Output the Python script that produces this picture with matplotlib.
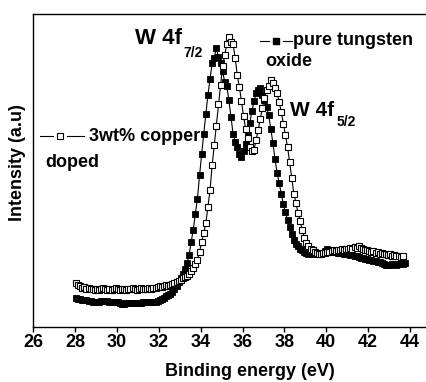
import numpy as np
import matplotlib
matplotlib.use("Agg")
import matplotlib.pyplot as plt

plt.rcParams.update({
    'font.family': 'Liberation Sans',
    'font.weight': 'bold',
    'axes.linewidth': 1.0,
})

# XPS W 4f spectra, energy grid starts at 28.05 eV with 0.1 eV steps
E_START = 28.05
E_STEP = 0.1

pure_wo3 = [
    29.0, 28.3, 27.7, 27.3, 26.7, 26.7, 26.0, 25.7, 25.3, 25.0,
    25.3, 25.0, 25.7, 26.0, 26.3, 26.0, 25.3, 25.0, 24.7, 25.0,
    24.7, 24.0, 23.0, 22.7, 23.7, 24.3, 24.0, 23.7, 24.0, 24.3,
    24.0, 24.3, 24.7, 24.7, 25.0, 24.7, 25.0, 25.3, 25.0, 25.7,
    26.7, 28.0, 29.3, 30.7, 32.0, 33.3, 35.3, 38.0, 41.3, 45.0,
    49.0, 52.7, 58.0, 64.0, 71.7, 85.0, 97.3, 113.3, 128.3, 151.7,
    172.7, 193.3, 213.3, 232.3, 247.7, 264.0, 269.3, 279.3, 270.0, 264.0,
    256.0, 245.0, 240.7, 226.7, 210.0, 193.3, 185.0, 180.0, 173.3, 170.0,
    176.0, 182.7, 191.7, 204.0, 216.0, 225.7, 234.0, 237.3, 238.7, 232.0,
    226.7, 220.0, 211.7, 198.3, 184.0, 168.3, 154.0, 144.0, 133.3, 122.7,
    115.0, 106.7, 100.0, 93.3, 87.3, 83.3, 80.7, 78.3, 76.7, 75.0,
    74.0, 73.3, 73.0, 73.0, 73.3, 73.3, 73.0, 73.3, 74.0, 76.0,
    78.0, 77.3, 76.0, 75.0, 74.7, 74.3, 74.0, 74.0, 73.3, 73.3,
    72.7, 72.3, 71.7, 71.3, 70.7, 70.0, 69.3, 68.7, 68.0, 67.7,
    67.0, 66.7, 66.3, 65.7, 65.0, 64.7, 64.0, 63.3, 62.3, 61.7,
    62.3, 63.3, 62.7, 62.0, 63.0, 63.7, 63.3, 64.0,
]

cu_doped = [
    44.0, 41.7, 40.7, 39.3, 40.0, 38.3, 39.0, 37.7, 38.0, 37.3,
    38.0, 37.3, 38.3, 39.3, 38.0, 37.3, 38.0, 37.0, 38.0, 38.7,
    38.0, 37.3, 38.3, 38.0, 37.3, 38.0, 37.7, 38.7, 37.7, 37.3,
    38.0, 38.7, 37.7, 38.3, 38.0, 39.0, 38.3, 39.3, 38.7, 40.0,
    40.7, 40.0, 41.3, 41.7, 41.0, 42.3, 42.7, 44.0, 45.0, 46.0,
    47.3, 48.7, 50.0, 51.3, 53.3, 56.0, 59.3, 62.7, 67.3, 75.0,
    85.0, 94.0, 104.0, 120.0, 136.7, 161.7, 181.7, 201.3, 222.7, 241.7,
    260.7, 271.7, 282.7, 290.0, 285.0, 282.7, 269.3, 251.7, 240.0, 226.0,
    210.7, 198.3, 189.3, 180.0, 176.0, 177.3, 187.3, 197.3, 208.3, 219.3,
    229.3, 237.3, 240.7, 246.7, 244.0, 239.3, 234.0, 225.0, 215.0, 203.3,
    191.7, 180.0, 165.0, 149.3, 133.3, 124.0, 114.0, 106.0, 97.3, 89.3,
    84.0, 80.7, 78.3, 76.7, 75.0, 74.0, 73.3, 73.3, 74.0, 74.0,
    75.0, 74.7, 76.0, 76.7, 76.0, 77.3, 76.7, 78.0, 77.3, 78.3,
    77.7, 79.0, 78.3, 80.0, 79.3, 81.3, 79.3, 78.3, 76.7, 77.3,
    76.0, 75.0, 75.7, 74.3, 75.0, 73.3, 74.0, 72.7, 73.3, 72.0,
    72.7, 71.3, 72.0, 70.7, 71.3, 70.0, 70.7,
]

x_ticks = [26, 28, 30, 32, 34, 36, 38, 40, 42, 44]

e_pure = E_START + E_STEP * np.arange(len(pure_wo3))
e_doped = E_START + E_STEP * np.arange(len(cu_doped))

W, H = 427, 382
fig = plt.figure(figsize=(W / 100, H / 100), dpi=100)
# axes runs past the right edge of the image, like the cropped original
ax = fig.add_axes([33 / W, 55 / H, 419 / W, 313 / H])

ax.plot(e_pure, pure_wo3, '-', color='black', lw=0.8,
        marker='s', ms=4.6, mfc='black', mec='black', mew=0.6)
ax.plot(e_doped, cu_doped, '-', color='black', lw=0.8,
        marker='s', ms=4.6, mfc='white', mec='black', mew=0.8)

ax.set_xlim(26, 46)
ax.set_ylim(0, 313)
ax.set_xticks(x_ticks)
ax.set_yticks([])
ax.tick_params(axis='x', direction='out', length=3.6, width=1.0, pad=1.2,
               labelsize=13)
ax.spines['right'].set_visible(False)

ax.set_xlabel('Binding energy (eV)', fontsize=13, fontweight='bold')
ax.xaxis.set_label_coords((250 - 33) / 419, -0.115)
ax.set_ylabel('Intensity (a.u)', fontsize=13, fontweight='bold')
ax.yaxis.set_label_coords(-(33 - 26) / 419, (327 - 163) / 313)


def ftext(px, py, s, size, **kw):
    fig.text(px / W, 1 - py / H, s, fontsize=size, fontweight='bold',
             va='baseline', ha='left', **kw)


def fline(xs, py, **kw):
    style = dict(color='black', lw=0.8)
    style.update(kw)
    fig.add_artist(plt.Line2D([x / W for x in xs], [1 - py / H] * len(xs),
                              **style))


# peak labels
ftext(135, 44.5, 'W 4f', 16)
ftext(183, 57, '7/2', 10)
ftext(290, 116.5, 'W 4f', 15)
ftext(337, 126.5, '5/2', 10)

# hand-drawn style legend entries
fline([260, 269], 40.5)
fline([283, 292], 40.5)
fline([276], 40.5, marker='s', ms=4.6, mfc='black', mec='black', lw=0)
ftext(293, 45, 'pure tungsten', 13)
ftext(265, 66.5, 'oxide', 13)

fline([40, 53], 136)
fline([67, 84], 136)
fline([60], 136, marker='s', ms=4.6, mfc='white', mec='black', mew=0.8, lw=0)
ftext(89, 141.5, '3wt% copper', 13)
ftext(45, 167, 'doped', 13)

fig.savefig('out.png', dpi=100)
